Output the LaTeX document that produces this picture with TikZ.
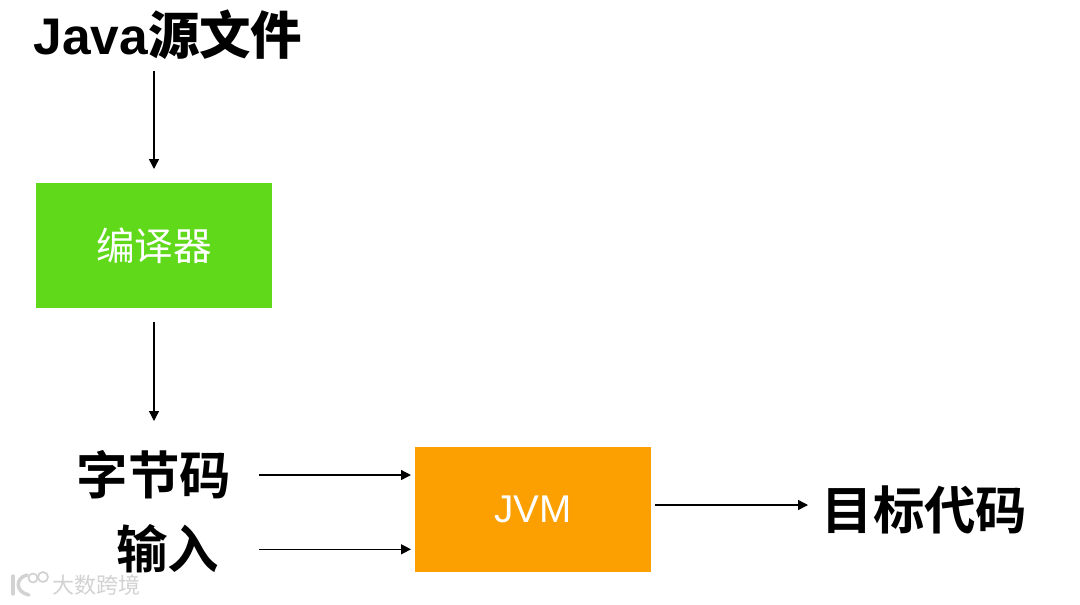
\documentclass[tikz,border=0pt]{standalone}
\usepackage{fontspec}
\setmainfont{Liberation Sans}
\newfontfamily\cjk{Noto Sans CJK SC}
\newfontfamily\cjkb{Noto Sans CJK SC Bold}
\usetikzlibrary{arrows.meta}
\definecolor{gr}{HTML}{5FD91A}
\definecolor{org}{HTML}{FBA000}
\definecolor{wm}{HTML}{D2D2D2}
\tikzset{
 px/.style={x=0.75pt,y=-0.75pt},
 conn/.style={draw=black,line width=1.05pt,-{Triangle[length=7.5pt,width=7.5pt]}},
 bigt/.style={inner sep=0pt,text=black,font=\fontsize{38.6}{38.6}\selectfont},
 box/.style={minimum width=177pt,minimum height=94pt,inner sep=0pt,text=white,font=\fontsize{29}{29}\selectfont},
 wmline/.style={draw=wm,line width=2.6pt,line cap=round},
 wmring/.style={draw=wm,line width=1.3pt},
 wmtext/.style={inner sep=0pt,text=wm,font=\fontsize{16.5}{16.5}\selectfont},
}
\begin{document}
\begin{tikzpicture}[px]
\useasboundingbox[fill=white] (0,0) rectangle (1080,604);
\node[bigt] (src) at (168,35) {\bfseries Java\cjkb 源文件};
\node[box,fill=gr] (comp) at (154,245.5) {\raisebox{-1pt}{\cjk 编译器}};
\node[bigt] (bc) at (154,475) {\cjkb 字节码};
\node[bigt] (in) at (167.5,549) {\cjkb 输入};
\node[box,fill=org] (jvm) at (533,509.5) {\raisebox{-2pt}{JVM}};
\node[bigt] (out) at (924.5,510) {\cjkb 目标代码};
\coordinate (a1) at (154,71); \coordinate (a2) at (154,169);
\coordinate (b1) at (154,322); \coordinate (b2) at (154,421);
\coordinate (c1) at (259,475); \coordinate (c2) at (411,475);
\coordinate (d1) at (259,549.3); \coordinate (d2) at (411,549.3);
\coordinate (e1) at (655,505); \coordinate (e2) at (808,505);
\draw[conn] (a1) -- (a2);
\draw[conn] (b1) -- (b2);
\draw[conn] (c1) -- (c2);
\draw[conn] (d1) -- (d2);
\draw[conn] (e1) -- (e2);
% watermark
\draw[wmline] (13,576) -- (13,594);
\draw[wmline] (27,575) .. controls (15,578) and (15,592) .. (29,595);
\draw[wmring] (33,578) circle (4.5);
\draw[wmring] (43,577) circle (5);
\node[wmtext] (mark) at (96,585) {\cjk 大数跨境};
\end{tikzpicture}
\end{document}
